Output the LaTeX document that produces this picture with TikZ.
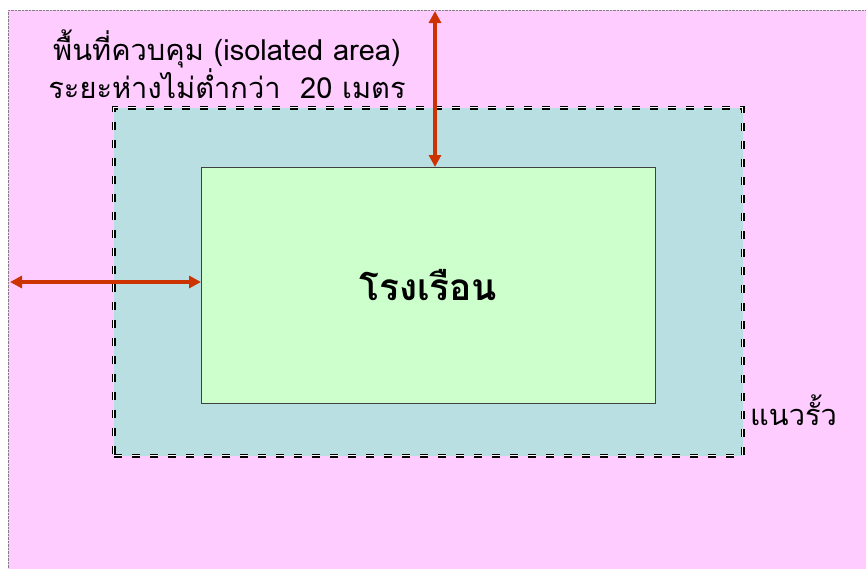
\documentclass[tikz,border=0pt]{standalone}
\usepackage{fontspec}
\newfontfamily\thaifont[Script=Thai]{Loma}
\usetikzlibrary{arrows.meta,positioning}

\definecolor{areapink}{HTML}{FFCCFF}
\definecolor{fenceteal}{HTML}{B9DFE3}
\definecolor{housegreen}{HTML}{CCFFCC}
\definecolor{dimred}{HTML}{CC3300}

\begin{document}
\begin{tikzpicture}[x=1pt,y=-1pt,>={Triangle[width=12pt,length=12pt]},
  area node/.style={rectangle,anchor=north west,inner sep=0pt,fill=areapink,draw=gray,densely dotted,thin},
  fence node/.style={rectangle,anchor=north west,inner sep=0pt,fill=fenceteal,draw=black,
    line width=1.3pt,double=white,double distance=1.6pt,dash pattern=on 8pt off 10pt},
  house node/.style={rectangle,anchor=north west,inner sep=0pt,fill=housegreen,draw=black!75,thin},
  text node/.style={font=\thaifont\fontsize{29}{36}\selectfont,align=center,inner sep=0pt},
  dim line/.style={<->,draw=dimred,line width=3.4pt}]

  \useasboundingbox (0,0) rectangle (866,568);

  \node[area node,minimum width=870pt,minimum height=570pt] (area) at (8,10) {};
  \node[fence node,minimum width=629pt,minimum height=348pt] (fence) at (113,107) {};
  \node[house node,minimum width=454pt,minimum height=236pt] (house) at (201,167) {};

  \node[font=\thaifont\bfseries\fontsize{37}{42}\selectfont] (name) at (house.center) {โรงเรือน};
  \node[text node] (label) at (227,64) {พื้นที่ควบคุม (isolated area)\\ระยะห่างไม่ต่ำกว่า~ 20 เมตร};
  \node[text node,anchor=west] (fenceline) at (750,410) {แนวรั้ว};

  \coordinate (top) at (435,11);
  \coordinate (left) at (10,282);

  \draw[dim line] (top) -- (top |- house.north);
  \draw[dim line] (left) -- (left -| house.west);

\end{tikzpicture}
\end{document}
